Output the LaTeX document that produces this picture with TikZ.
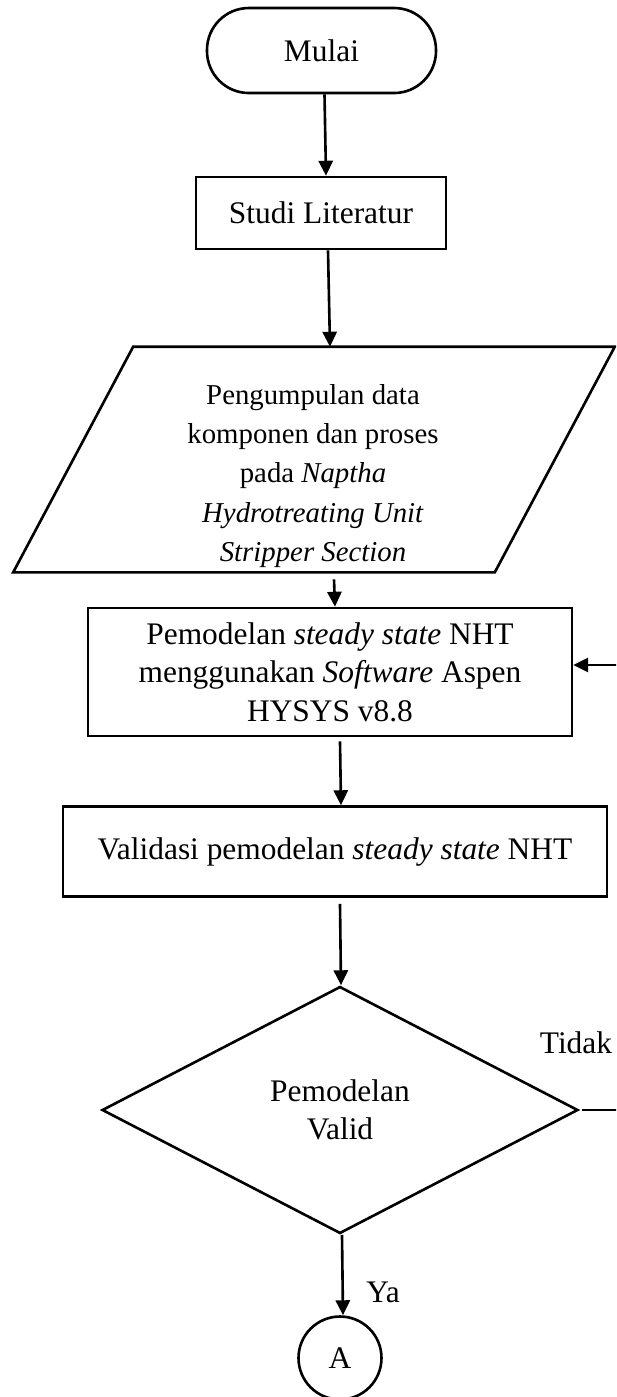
\documentclass[tikz,border=0pt]{standalone}
\usepackage{fontspec}
\setmainfont{Liberation Serif}
\usetikzlibrary{arrows.meta,shapes.geometric}
\def\pxu{0.382pt}
\begin{document}
\begin{tikzpicture}[x=\pxu, y=-\pxu, line width=1pt,
  font=\fontsize{12}{14.7}\selectfont,
  box/.style={draw, rectangle, align=center, inner sep=0pt},
  arr/.style={-{Triangle[length=5.7pt,width=5.4pt]}}]
\useasboundingbox (0,0) rectangle (616,1397);
\clip (0,0) rectangle (616,1397);

% terminator and process boxes
\node[box, rounded corners=16pt, minimum width={229*\pxu}, minimum height={85*\pxu}]
  (mulai) at (321.5,50.5) {Mulai};
\node[box, minimum width={250*\pxu}, minimum height={72*\pxu}]
  (studi) at (321,213) {Studi Literatur};

% input/output parallelogram
\node[minimum width={479*\pxu}, minimum height={223*\pxu}, inner sep=0pt]
  (data) at (314,459.5) {};
\draw ([shift={(60,0)}]data.north west) -- ([shift={(60,0)}]data.north east)
   -- ([shift={(-60,0)}]data.south east) -- ([shift={(-60,0)}]data.south west) -- cycle;
\node[align=center, font=\fontsize{11}{15}\selectfont] (datatext) at (313,476)
  {Pengumpulan data\\komponen dan proses\\pada \textit{Naptha}\\\textit{Hydrotreating Unit}\\\textit{Stripper Section}};

\node[box, minimum width={484*\pxu}, minimum height={128*\pxu}]
  (model) at (330,672)
  {Pemodelan \textit{steady state} NHT\\menggunakan \textit{Software} Aspen\\HYSYS v8.8};
\node[box, minimum width={544*\pxu}, minimum height={90*\pxu}]
  (valid) at (335,851.5) {Validasi pemodelan \textit{steady state} NHT};

% decision and connector
\node[draw, diamond, align=center, inner sep=0pt, minimum width={476*\pxu}, minimum height={247*\pxu}]
  (dec) at (340,1110) {Pemodelan\\Valid};
\node[draw, circle, inner sep=0pt, minimum size={83*\pxu}] (A) at (340,1358) {A};

\node (tidak) at (576,1043) {Tidak};
\node (ya) at (383,1292) {Ya};

% flow lines
\draw[arr] ([shift={(3,0)}]mulai.south) -- ([shift={(5,0)}]studi.north);
\draw[arr] ([shift={(7,0)}]studi.south) -- ([shift={(16,0)}]data.north);
\draw[arr] ([shift={(20,7)}]data.south) -- ([shift={(5,0)}]model.north);
\draw[arr] ([shift={(10,4)}]model.south) -- ([shift={(6,0)}]valid.north);
\draw[arr] ([shift={(5,6)}]valid.south) -- ([shift={(1,0)}]dec.north);
\draw[arr] ([shift={(2,0)}]dec.south) -- ([shift={(3,0)}]A.north);

% loop back when the model is not valid
\coordinate (loop) at (660,1110);
\draw[arr] ([shift={(3,0)}]dec.east) -- (loop) |- ([shift={(0,-7)}]model.east);
\end{tikzpicture}
\end{document}
